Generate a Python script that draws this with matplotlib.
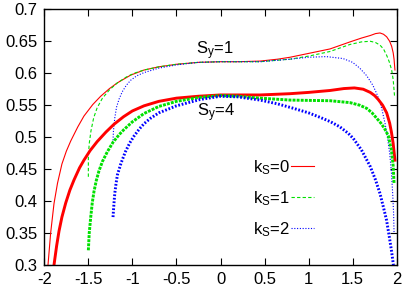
import matplotlib
matplotlib.use("Agg")
import matplotlib.pyplot as plt
from matplotlib.ticker import FuncFormatter, MultipleLocator

plt.rcParams['font.family'] = ['Liberation Sans', 'DejaVu Sans']
plt.rcParams['mathtext.default'] = 'regular'
plt.rcParams['axes.unicode_minus'] = False

# Sy=1 (thin lines)
sy1_k0_x = [-1.958, -1.928, -1.89, -1.85, -1.80, -1.75, -1.70, -1.62, -1.55, -1.45, -1.36, -1.26, -1.17, -1.02, -0.868, -0.7, -0.5, -0.25, 0.0, 0.2, 0.45, 0.65, 0.79, 1.0, 1.243, 1.47, 1.6, 1.70, 1.76, 1.81, 1.85, 1.886, 1.92, 1.943, 1.96, 1.97, 1.98]
sy1_k0_y = [0.30, 0.35, 0.396, 0.428, 0.458, 0.478, 0.494, 0.516, 0.533, 0.551, 0.564, 0.576, 0.585, 0.597, 0.605, 0.610, 0.614, 0.617, 0.618, 0.618, 0.619, 0.622, 0.625, 0.631, 0.638, 0.649, 0.655, 0.659, 0.662, 0.663, 0.661, 0.657, 0.650, 0.642, 0.632, 0.622, 0.605]

sy1_k1_x = [-1.50, -1.50, -1.49, -1.47, -1.44, -1.40, -1.34, -1.26, -1.17, -1.07, -0.98, -0.868, -0.7, -0.5, -0.25, 0.0, 0.45, 0.79, 1.01, 1.243, 1.47, 1.6, 1.70, 1.76, 1.81, 1.85, 1.886, 1.915, 1.943, 1.96, 1.975]
sy1_k1_y = [0.438, 0.47, 0.49, 0.51, 0.530, 0.546, 0.561, 0.574, 0.585, 0.594, 0.600, 0.605, 0.610, 0.614, 0.617, 0.618, 0.618, 0.622, 0.627, 0.634, 0.645, 0.649, 0.650, 0.648, 0.644, 0.638, 0.628, 0.618, 0.605, 0.59, 0.565]

sy1_k2_x = [-1.22, -1.215, -1.20, -1.18, -1.15, -1.115, -1.07, -1.02, -0.95, -0.868, -0.7, -0.5, -0.25, 0.0, 0.45, 0.79, 1.0, 1.2, 1.39, 1.5, 1.58, 1.66, 1.73, 1.78, 1.83, 1.87, 1.90, 1.92, 1.94, 1.955, 1.965, 1.97]
sy1_k2_y = [0.495, 0.51, 0.53, 0.547, 0.560, 0.571, 0.581, 0.589, 0.596, 0.601, 0.608, 0.613, 0.617, 0.618, 0.618, 0.622, 0.625, 0.626, 0.623, 0.617, 0.608, 0.596, 0.581, 0.566, 0.545, 0.52, 0.495, 0.475, 0.445, 0.41, 0.38, 0.35]

# Sy=4 (thick lines)
sy4_k0_x = [-1.89, -1.86, -1.833, -1.80, -1.757, -1.71, -1.663, -1.60, -1.55, -1.48, -1.40, -1.30, -1.21, -1.10, -1.0, -0.868, -0.7, -0.5, -0.25, 0.0, 0.45, 0.79, 1.0, 1.243, 1.4, 1.52, 1.62, 1.70, 1.75, 1.79, 1.84, 1.886, 1.92, 1.94, 1.96, 1.98]
sy4_k0_y = [0.30, 0.33, 0.353, 0.375, 0.397, 0.417, 0.433, 0.452, 0.464, 0.479, 0.493, 0.508, 0.520, 0.532, 0.541, 0.549, 0.556, 0.561, 0.564, 0.566, 0.566, 0.568, 0.570, 0.573, 0.576, 0.577, 0.575, 0.570, 0.565, 0.559, 0.550, 0.538, 0.522, 0.508, 0.49, 0.464]

sy4_k1_x = [-1.50, -1.49, -1.473, -1.455, -1.436, -1.41, -1.38, -1.34, -1.285, -1.22, -1.15, -1.095, -1.0, -0.868, -0.7, -0.5, -0.25, 0.0, 0.2, 0.45, 0.79, 1.0, 1.243, 1.47, 1.58, 1.66, 1.72, 1.77, 1.82, 1.86, 1.905, 1.94, 1.96, 1.97]
sy4_k1_y = [0.323, 0.35, 0.375, 0.398, 0.415, 0.432, 0.447, 0.462, 0.477, 0.492, 0.504, 0.512, 0.524, 0.537, 0.548, 0.556, 0.562, 0.565, 0.564, 0.561, 0.558, 0.5575, 0.557, 0.554, 0.55, 0.545, 0.538, 0.530, 0.522, 0.514, 0.502, 0.48, 0.455, 0.428]

sy4_k2_x = [-1.22, -1.21, -1.20, -1.185, -1.17, -1.13, -1.08, -1.03, -0.98, -0.92, -0.868, -0.8, -0.7, -0.5, -0.23, 0.0, 0.2, 0.45, 0.65, 0.83, 1.0, 1.13, 1.25, 1.356, 1.45, 1.507, 1.6, 1.70, 1.76, 1.81, 1.85, 1.885, 1.915, 1.94, 1.963]
sy4_k2_y = [0.375, 0.395, 0.412, 0.428, 0.441, 0.459, 0.477, 0.491, 0.502, 0.513, 0.521, 0.529, 0.538, 0.549, 0.559, 0.564, 0.563, 0.558, 0.552, 0.545, 0.538, 0.531, 0.524, 0.516, 0.506, 0.498, 0.48, 0.454, 0.433, 0.412, 0.39, 0.37, 0.345, 0.323, 0.30]

legend_labels = [r'k$_S$=0', r'k$_S$=1', r'k$_S$=2']
curve_labels = [r'S$_y$=1', r'S$_y$=4']

x_ticks = [-2, -1.5, -1, -0.5, 0, 0.5, 1, 1.5, 2]

red = '#ff0000'
green = '#00e000'
blue = '#0000ff'

fig = plt.figure(figsize=(4.15, 2.91), dpi=100)
ax = fig.add_axes([44.3 / 415, 26 / 291, (396.7 - 44.3) / 415, (265 - 9.3) / 291])

thin = 0.8
thick = 2.1
l0, = ax.plot(sy1_k0_x, sy1_k0_y, color=red, lw=thin, label=legend_labels[0])
l1, = ax.plot(sy1_k1_x, sy1_k1_y, color=green, lw=thin, dashes=(3, 2), label=legend_labels[1])
l2, = ax.plot(sy1_k2_x, sy1_k2_y, color=blue, lw=thin, dashes=(1, 1.5), label=legend_labels[2])

ax.plot(sy4_k0_x, sy4_k0_y, color=red, lw=thick)
ax.plot(sy4_k1_x, sy4_k1_y, color=green, lw=thick, dashes=(1.0, 0.4), dash_capstyle='butt')
ax.plot(sy4_k2_x, sy4_k2_y, color=blue, lw=thick, dashes=(0.6, 0.6), dash_capstyle='butt')

ax.text(-0.06, 0.636, curve_labels[0], fontsize=12, ha='center', va='center')
ax.text(-0.05, 0.539, curve_labels[1], fontsize=12, ha='center', va='center')

leg = ax.legend(handles=[l0, l1, l2], loc='upper left', bbox_to_anchor=(0.573, 0.445),
                frameon=False, markerfirst=False, fontsize=12, handlelength=1.4,
                handletextpad=0.05, labelspacing=0.74, borderaxespad=0)

ax.set_xlim(-2, 2)
ax.set_ylim(0.3, 0.7)
ax.set_xticks(x_ticks)
ax.yaxis.set_major_locator(MultipleLocator(0.05))
fmt = FuncFormatter(lambda v, p: '%g' % round(v, 3))
ax.xaxis.set_major_formatter(fmt)
ax.yaxis.set_major_formatter(fmt)
ax.tick_params(direction='in', top=True, right=True, length=5, width=0.8,
               labelsize=12, pad=5)
for s in ax.spines.values():
    s.set_linewidth(1.0)

fig.savefig('out.png', dpi=100)
